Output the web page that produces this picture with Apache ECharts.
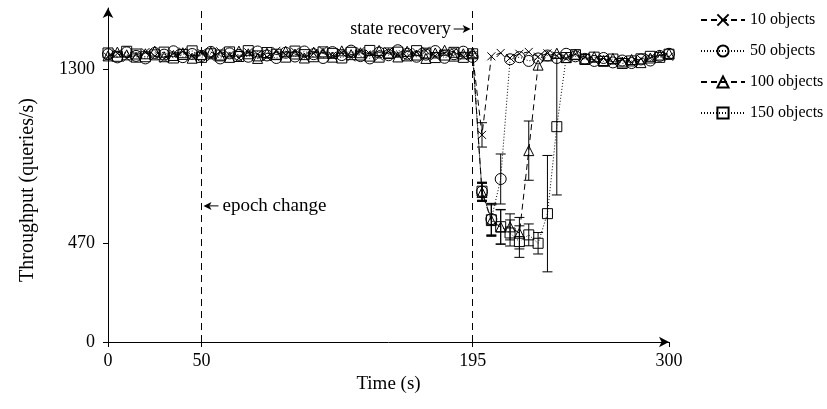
<!DOCTYPE html>
<html>
<head>
<meta charset="utf-8">
<script src="https://cdn.jsdelivr.net/npm/echarts@6/dist/echarts.min.js"></script>
<style>
  html, body { margin: 0; padding: 0; background: #fff; }
  #chart { width: 827px; height: 409px; }
</style>
</head>
<body>
<div id="chart"></div>
<script>
// time grid (s)
var times = [0, 5, 10, 15, 20, 25, 30, 35, 40, 45, 50, 55, 60, 65, 70, 75, 80, 85, 90, 95,
  100, 105, 110, 115, 120, 125, 130, 135, 140, 145, 150, 155, 160, 165, 170, 175, 180, 185, 190, 195,
  200, 205, 210, 215, 220, 225, 230, 235, 240, 245, 250, 255, 260, 265, 270, 275, 280, 285, 290, 295, 300];

// throughput (queries/s)
var tput10 = [1358, 1374, 1352, 1368, 1380, 1361, 1349, 1372, 1383, 1360,
  1376, 1355, 1384, 1366, 1352, 1379, 1370, 1357, 1386, 1368,
  1382, 1361, 1374, 1388, 1363, 1377, 1355, 1385, 1372, 1359,
  1383, 1368, 1356, 1380, 1387, 1362, 1375, 1384, 1360, 1366,
  986,
  1360, 1376, 1352, 1372, 1381, 1358, 1374, 1363, 1350, 1371,
  1356, 1342, 1350, 1333, 1344, 1330, 1348, 1352, 1366, 1358];
var tput50 = [1370, 1355, 1379, 1362, 1350, 1376, 1368, 1384, 1356, 1371,
  1362, 1381, 1350, 1374, 1367, 1358, 1383, 1364, 1352, 1377,
  1359, 1383, 1370, 1352, 1380, 1366, 1387, 1361, 1350, 1378,
  1365, 1389, 1372, 1358, 1368, 1385, 1353, 1370, 1382, 1357,
  716, 585, 776,
  1346, 1356, 1338, 1350, 1364, 1352, 1372, 1360, 1348, 1338,
  1352, 1331, 1340, 1328, 1345, 1340, 1362, 1372];
var tput100 = [1362, 1380, 1367, 1356, 1372, 1385, 1358, 1364, 1377, 1351,
  1369, 1380, 1362, 1355, 1385, 1372, 1350, 1375, 1368, 1384,
  1371, 1352, 1380, 1375, 1356, 1386, 1368, 1377, 1361, 1388,
  1373, 1357, 1384, 1366, 1350, 1376, 1389, 1361, 1372, 1377,
  712, 578, 547, 548, 518, 911,
  1318, 1362, 1375, 1354, 1370, 1348, 1358, 1340, 1350, 1333,
  1345, 1330, 1352, 1366, 1374];
var tput150 = [1376, 1360, 1384, 1371, 1358, 1367, 1380, 1352, 1369, 1386,
  1355, 1372, 1366, 1381, 1359, 1387, 1362, 1378, 1370, 1356,
  1385, 1368, 1358, 1381, 1374, 1352, 1379, 1366, 1388, 1356,
  1376, 1380, 1362, 1387, 1375, 1354, 1366, 1379, 1355, 1372,
  718, 582, 549, 519, 478, 510, 470, 611, 1025,
  1354, 1368, 1345, 1356, 1336, 1347, 1326, 1338, 1348, 1360, 1355, 1370];

// error bars (half width) during recovery
var errT10 = [200];
var errV10 = [58];
var errT50 = [200, 205, 210];
var errV50 = [43, 75, 119];
var errT100 = [200, 205, 210, 215, 220, 225];
var errV100 = [43, 75, 82, 62, 75, 141];
var errT150 = [200, 205, 210, 215, 220, 225, 230, 235, 240];
var errV150 = [43, 75, 82, 62, 75, 52, 51, 277, 325];

var xTicks = [0, 50, 195, 300];
var yTicks = [0, 470, 1300];
var names = ['10 objects', '50 objects', '100 objects', '150 objects'];

var FONT = 'Liberation Serif';
var chart = echarts.init(document.getElementById('chart'));

function pairs(vals) {
    return times.map(function (t, i) { return [t, vals[i]]; });
}
function errData(ts, es, vals) {
    return ts.map(function (t, i) {
        return [t, vals[times.indexOf(t)], es[i]];
    });
}
function renderErr(params, api) {
    var t = api.value(0), y = api.value(1), e = api.value(2);
    var top = api.coord([t, y + e]);
    var bot = api.coord([t, y - e]);
    var w = 5;
    var st = { stroke: '#000', lineWidth: 1 };
    return {
        type: 'group',
        children: [
            { type: 'line', shape: { x1: top[0], y1: top[1], x2: bot[0], y2: bot[1] }, style: st },
            { type: 'line', shape: { x1: top[0] - w, y1: top[1], x2: top[0] + w, y2: top[1] }, style: st },
            { type: 'line', shape: { x1: bot[0] - w, y1: bot[1], x2: bot[0] + w, y2: bot[1] }, style: st }
        ]
    };
}

var crossPath = 'path://M0,0L10,10M10,0L0,10';
var lineSeries = [
    { name: names[0], data: pairs(tput10), symbol: crossPath, symbolSize: 8, dash: [6, 4] },
    { name: names[1], data: pairs(tput50), symbol: 'circle', symbolSize: 11, dash: [1, 2] },
    { name: names[2], data: pairs(tput100), symbol: 'triangle', symbolSize: 10, dash: [6, 4] },
    { name: names[3], data: pairs(tput150), symbol: 'rect', symbolSize: 10, dash: [1, 2] }
].map(function (s, i) {
    var o = {
        name: s.name,
        type: 'line',
        data: s.data,
        symbol: s.symbol,
        symbolSize: s.symbolSize,
        showAllSymbol: true,
        animation: false,
        z: 3,
        lineStyle: { color: '#000', width: 1, type: s.dash },
        itemStyle: { color: 'rgba(255,255,255,0)', borderColor: '#000', borderWidth: 1 }
    };
    if (i === 0) {
        o.markLine = {
            silent: true,
            symbol: 'none',
            label: { show: false },
            lineStyle: { color: '#000', width: 1, type: [7, 5] },
            data: [{ xAxis: 50 }, { xAxis: 195 }]
        };
    }
    return o;
});

var errSeries = [
    errData(errT10, errV10, tput10),
    errData(errT50, errV50, tput50),
    errData(errT100, errV100, tput100),
    errData(errT150, errV150, tput150)
].map(function (d) {
    return { type: 'custom', renderItem: renderErr, data: d, z: 2, animation: false, silent: true };
});

chart.setOption({
    animation: false,
    grid: { left: 108, right: 158, top: 8, bottom: 67, outerBoundsMode: 'none' },
    legend: {
        data: names,
        orient: 'vertical',
        left: 695,
        top: 7,
        itemWidth: 44,
        itemHeight: 14,
        itemGap: 15,
        textStyle: { fontFamily: FONT, fontSize: 16, color: '#000' }
    },
    xAxis: {
        type: 'value',
        min: 0,
        max: 300,
        name: 'Time (s)',
        nameLocation: 'middle',
        nameGap: 31,
        nameTextStyle: { fontFamily: FONT, fontSize: 19, color: '#000' },
        splitLine: { show: false },
        axisLine: { lineStyle: { color: '#000', width: 1 }, symbol: ['none', 'arrow'], symbolSize: [8, 10] },
        axisTick: { customValues: xTicks, length: 5, lineStyle: { color: '#000' } },
        axisLabel: { customValues: xTicks, fontFamily: FONT, fontSize: 18, color: '#000', margin: 10 }
    },
    yAxis: {
        type: 'value',
        min: 0,
        max: 1590,
        splitLine: { show: false },
        axisLine: { show: true, lineStyle: { color: '#000', width: 1 }, symbol: ['none', 'arrow'], symbolSize: [8, 10] },
        axisTick: { show: true, customValues: yTicks, length: 5, lineStyle: { color: '#000' } },
        axisLabel: {
            customValues: yTicks, fontFamily: FONT, fontSize: 18, color: '#000', margin: 13,
            formatter: function (v) { return String(v); }
        }
    },
    series: lineSeries.concat(errSeries)
});

// annotations placed from data coordinates
var pEpoch = chart.convertToPixel({ gridIndex: 0 }, [50, 648]);
var pState = chart.convertToPixel({ gridIndex: 0 }, [195, 1490]);
function arrow(x0, x1, y) {
    var dir = x1 > x0 ? 1 : -1;
    return [
        { type: 'line', shape: { x1: x0, y1: y, x2: x1 - dir * 6, y2: y }, style: { stroke: '#000', lineWidth: 1 } },
        { type: 'polygon', shape: { points: [[x1, y], [x1 - dir * 8, y - 4], [x1 - dir * 6, y], [x1 - dir * 8, y + 4]] }, style: { fill: '#000' } }
    ];
}
chart.setOption({
    graphic: [
        { type: 'text', x: 28, y: 190, rotation: Math.PI / 2,
          style: { text: 'Throughput (queries/s)', fontFamily: FONT, fontSize: 20, fill: '#000', align: 'center', verticalAlign: 'middle' } },
        { type: 'text', x: pEpoch[0] + 21, y: pEpoch[1],
          style: { text: 'epoch change', fontFamily: FONT, fontSize: 19, fill: '#000', align: 'left', verticalAlign: 'middle' } },
        { type: 'text', x: pState[0] - 22, y: pState[1],
          style: { text: 'state recovery', fontFamily: FONT, fontSize: 18, fill: '#000', align: 'right', verticalAlign: 'middle' } }
    ].concat(arrow(pEpoch[0] + 17, pEpoch[0] + 2, pEpoch[1]))
     .concat(arrow(pState[0] - 19, pState[0] - 2, pState[1]))
});
</script>
</body>
</html>
